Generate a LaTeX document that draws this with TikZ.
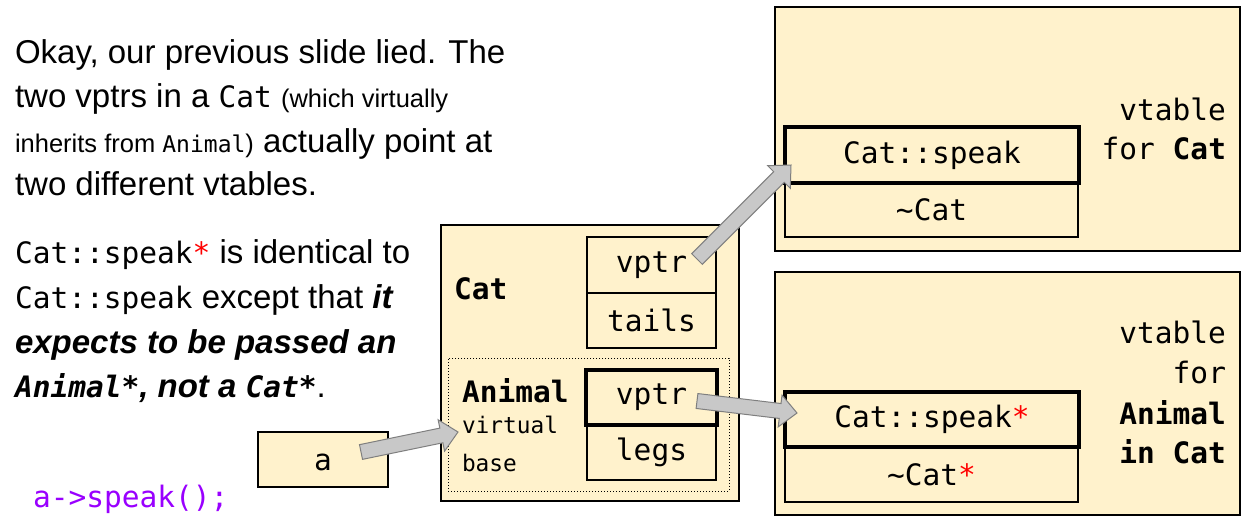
\documentclass[tikz,border=0pt]{standalone}
\usepackage{fontspec}
\setmainfont{Liberation Sans}
\newfontfamily\mono{DejaVu Sans Mono}
\usetikzlibrary{calc}
\definecolor{boxfill}{HTML}{FFF2CC}
\definecolor{arrowfill}{HTML}{C8C8C8}
\definecolor{arrowline}{HTML}{7F7F7F}
\definecolor{purp}{HTML}{9900FF}
\definecolor{starred}{HTML}{FF0000}
\newcommand\fsz[1]{\fontsize{#1}{#1}\selectfont}
\newcommand\blockarrow[2]{%
  \filldraw[barrow] ($(#1)!7.5pt!90:(#2)$) -- ($(#2)!17pt!(#1)!7.5pt!-90:(#1)$)
    -- ($(#2)!17pt!(#1)!16pt!-90:(#1)$) -- (#2)
    -- ($(#2)!17pt!(#1)!16pt!90:(#1)$) -- ($(#2)!17pt!(#1)!7.5pt!90:(#1)$)
    -- ($(#1)!7.5pt!-90:(#2)$) -- cycle;}
\tikzset{
  panel/.style={draw=black, fill=boxfill, line width=1.3pt, anchor=north west},
  cell/.style={draw=black, line width=1.3pt, anchor=north west, font=\mono\fsz{29.5}},
  hotcell/.style={draw=black, line width=4.5pt, anchor=north west, font=\mono\fsz{29.5}},
  dotbox/.style={draw=black, dotted, line width=1pt, anchor=north west},
  barrow/.style={draw=arrowline, fill=arrowfill, line width=1pt, line join=miter},
  body/.style={anchor=base west, font=\fsz{33}},
  lbl/.style={anchor=base east, font=\mono\fsz{29.5}},
}
\begin{document}
\begin{tikzpicture}[x=1pt,y=-1pt, every node/.style={inner sep=0pt, outer sep=0pt}]
\useasboundingbox (0,0) rectangle (1249,528);

% vtable for Cat
\node[panel, minimum width=465, minimum height=244] (vtcat) at (775,7) {};
\node[cell, minimum width=293, minimum height=54] (dtor1) at (785,183) {\textasciitilde Cat};
\node[hotcell, minimum width=294, minimum height=56] (speak1) at (785,127) {Cat::speak};
\node[lbl] (vtcatA) at (1226,120) {vtable};
\node[lbl] (vtcatB) at (1226,159) {for \textbf{Cat}};

% vtable for Animal in Cat
\node[panel, minimum width=465, minimum height=243] (vtani) at (775,272) {};
\node[cell, minimum width=293, minimum height=55] (dtor2) at (785,447) {\textasciitilde Cat\textcolor{starred}{*}};
\node[hotcell, minimum width=294, minimum height=55] (speak2) at (785,392) {Cat::speak\textcolor{starred}{*}};
\node[lbl] (vtaniA) at (1226,343) {vtable};
\node[lbl] (vtaniB) at (1226,383) {for};
\node[lbl] (vtaniC) at (1226,424) {\textbf{Animal}};
\node[lbl] (vtaniD) at (1226,463) {\textbf{in Cat}};

% Cat object
\node[panel, minimum width=298, minimum height=276] (catobj) at (441,225) {};
\node[dotbox, minimum width=281, minimum height=133] (anibase) at (448,358) {};
\node[cell, minimum width=129, minimum height=56] (vptr1) at (587,237) {vptr};
\node[cell, minimum width=129, minimum height=55] (tails) at (587,293) {tails};
\node[cell, minimum width=129, minimum height=55] (legs) at (587,425) {legs};
\node[hotcell, minimum width=131, minimum height=55] (vptr2) at (586,370) {vptr};
\node[anchor=base west, font=\mono\bfseries\fsz{29.5}] (catlbl) at (454,299) {Cat};
\node[anchor=base west, font=\mono\bfseries\fsz{29.5}] (anilbl) at (462,402) {Animal};
\node[anchor=base west, font=\mono\fsz{22.8}] (virt) at (462,433) {virtual};
\node[anchor=base west, font=\mono\fsz{22.8}] (base) at (462,471) {base};

% pointer a
\node[panel, minimum width=130, minimum height=55] (abox) at (258,432) {};
\node[anchor=base, font=\mono\fsz{29.5}] (alabel) at (323,470) {a};
\node[anchor=base west, font=\mono\fsz{29.5}, text=purp] (call) at (33,507) {a->speak();};

% left text
\node[body] (p1a) at (15,63) {Okay, our previous slide lied. The};
\node[body] (p1b) at (15,107) {two vptrs in a {\mono\fsz{29.5}Cat} {\fsz{25.5}(which virtually}};
\node[body] (p1c) at (15,152) {{\fsz{25.5}inherits from {\mono\fsz{23}Animal})} actually point at};
\node[body] (p1d) at (15,195) {two different vtables.};
\node[body] (p2a) at (15,263) {{\mono\fsz{29.5}Cat::speak\textcolor{starred}{*}} is identical to};
\node[body] (p2b) at (15,308) {{\mono\fsz{29.5}Cat::speak} except that \textbf{\textit{it}}};
\node[body] (p2c) at (15,353) {\textbf{\textit{expects to be passed an}}};
\node[body] (p2d) at (15,397) {{\mono\fsz{29.5}\bfseries\itshape Animal*}\textbf{\textit{, not a }}{\mono\fsz{29.5}\bfseries\itshape Cat*}.};

% arrows
\coordinate (aS) at (361,452);
\coordinate (aT) at (458,432);
\coordinate (bS) at (697,259);
\coordinate (bT) at (791,165);
\coordinate (cS) at (697,401);
\coordinate (cT) at (797,413);
\blockarrow{aS}{aT}
\blockarrow{bS}{bT}
\blockarrow{cS}{cT}
\end{tikzpicture}
\end{document}
